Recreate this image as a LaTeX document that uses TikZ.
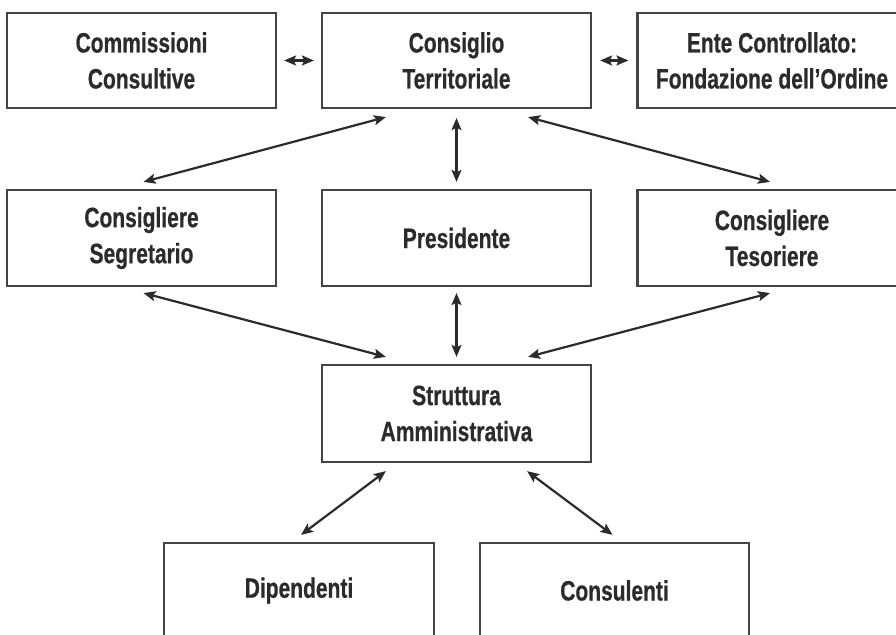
\documentclass[tikz,border=0pt]{standalone}
\usepackage{fontspec}
\newfontfamily\boxfont[FakeStretch=0.75,BoldFeatures={FakeBold=0.6}]{Liberation Sans}
\usetikzlibrary{arrows.meta}
\definecolor{boxline}{HTML}{444444}
\definecolor{ink}{HTML}{2B2B2B}
\tikzset{
  orgbox/.style={draw=boxline, line width=1.1pt, rectangle, inner sep=0pt,
    minimum width=134.5pt, minimum height=47.5pt, align=center, text=ink,
    font=\boxfont\bfseries\fontsize{14}{18}\selectfont},
  link/.style={draw=ink, line width=1.1pt,
    {Stealth[length=6pt,width=5pt,inset=1.2pt]}-{Stealth[length=6pt,width=5pt,inset=1.2pt]}}
}
\begin{document}
\begin{tikzpicture}[x=0.5pt,y=-0.5pt]
\clip (0,0) rectangle (896,635);
\useasboundingbox (0,0) rectangle (896,635);
\node[orgbox] (cc) at (141.5,60.5) {Commissioni\\Consultive};
\node[orgbox] (ct) at (456.5,60.5) {Consiglio\\Territoriale};
\node[orgbox] (ente) at (772,60.5) {Ente Controllato:\\Fondazione dell’Ordine};
\node[orgbox, minimum height=48pt] (seg) at (141.5,238) {Consigliere\\Segretario};
\node[orgbox, minimum height=48pt] (pres) at (456.5,238) {Presidente};
\node[orgbox, minimum height=48pt] (tes) at (772,238) {Consigliere\\Tesoriere};
\node[orgbox, minimum height=48.5pt] (str) at (456.5,413.5) {Struttura\\Amministrativa};
\node[orgbox, minimum width=135pt] (dip) at (299,590.5) {Dipendenti};
\node[orgbox] (con) at (614.5,590.5) {Consulenti};
% horizontal links
\draw[link] ([shift={(7,0)}]cc.east) -- ([shift={(-7,0)}]ct.west);
\draw[link] ([shift={(8,0)}]ct.east) -- ([shift={(-8,0)}]ente.west);
% consiglio to middle row
\draw[link] ([shift={(65,8)}]ct.south west) -- ([shift={(2,-7)}]seg.north);
\draw[link] ([shift={(0,9)}]ct.south) -- ([shift={(0,-7)}]pres.north);
\draw[link] ([shift={(-64,8)}]ct.south east) -- ([shift={(-2,-7)}]tes.north);
% middle row to struttura
\draw[link] ([shift={(2,6)}]seg.south) -- ([shift={(65,-7)}]str.north west);
\draw[link] ([shift={(0,6)}]pres.south) -- ([shift={(0,-7)}]str.north);
\draw[link] ([shift={(-2,6)}]tes.south) -- ([shift={(-64,-7)}]str.north east);
% struttura to bottom
\draw[link] ([shift={(65,8)}]str.south west) -- ([shift={(2,-7)}]dip.north);
\draw[link] ([shift={(-65,8)}]str.south east) -- ([shift={(-2,-7)}]con.north);
\end{tikzpicture}
\end{document}
